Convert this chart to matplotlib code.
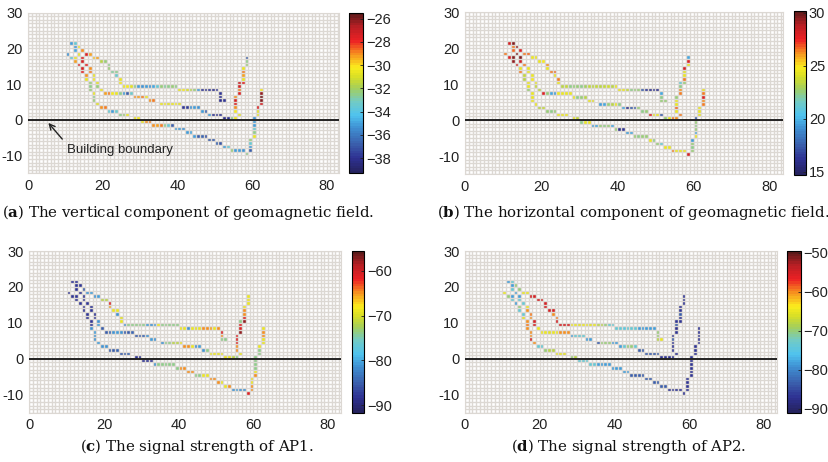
import matplotlib.pyplot as plt
import numpy as np
from matplotlib.colors import LinearSegmentedColormap

plt.rcParams['font.family'] = 'Liberation Sans'
plt.rcParams['axes.unicode_minus'] = False
plt.rcParams['mathtext.fontset'] = 'dejavuserif'

# cell positions of the three walked traces (same in all four maps)
path1_x = [11, 12, 13, 14, 15, 16, 17, 18, 19, 20, 21, 21, 22, 23, 23, 24, 24,
           25, 26, 27, 28, 29, 30, 31, 32, 33, 34, 35, 36, 37, 38, 39,
           40, 41, 42, 43, 44, 45, 46, 47, 48, 49, 50,
           51, 51, 51, 52]
path1_y = [21, 21, 20, 19, 18, 18, 17, 17, 16, 16, 15, 14, 13, 13, 12, 11, 10,
           9, 9, 9, 9, 9, 9, 9, 9, 9, 9, 9, 9, 9, 9, 9,
           8, 8, 8, 8, 8, 8, 8, 8, 8, 8, 8,
           7, 6, 5, 5]

path2_x = [12, 12, 13, 14, 14, 15, 16, 16, 17, 17, 18, 18, 19,
           20, 21, 22, 23, 24, 25, 26, 27,
           28, 29, 30, 31,
           32, 33,
           35, 36, 37, 38, 39, 40,
           41, 42, 43, 44, 45,
           46, 47,
           48, 49, 50, 51,
           52, 53, 54, 55,
           56, 55, 55, 55, 55, 55, 56, 56, 56, 56, 57, 57, 57, 57, 57, 58, 58, 58]
path2_y = [20, 19, 18, 17, 16, 15, 14, 13, 12, 11, 10, 9, 8,
           7, 7, 7, 7, 7, 7, 7, 7,
           6, 6, 6, 6,
           5, 5,
           4, 4, 4, 4, 4, 4,
           3, 3, 3, 3, 3,
           2, 2,
           1, 1, 1, 1,
           0, 0, 0, 0,
           1, 2, 3, 4, 5, 6, 7, 8, 9, 10, 10, 11, 12, 13, 14, 15, 16, 17]

path3_x = [10, 11, 12, 12, 13, 14, 14, 15, 15, 16, 16, 16, 17, 17, 17, 18, 19, 20, 21, 22, 23, 24, 25, 26,
           28, 29, 30, 31, 32, 33, 34, 35, 36, 37, 38, 39, 40, 41, 42, 43, 44, 45, 46, 47,
           48, 49, 50, 51, 52, 53, 54, 55, 56, 57, 58,
           59, 59, 59, 59, 60, 60, 60, 60, 60, 60, 61, 61, 61, 62, 62, 62, 62, 62]
path3_y = [18, 17, 17, 16, 15, 14, 13, 12, 11, 10, 9, 8, 7, 6, 5, 4, 3, 3, 2, 2, 2, 1, 1, 1,
           0, 0, -1, -1, -1, -2, -2, -2, -2, -2, -2, -3, -3, -3, -4, -4, -5, -5, -5, -5,
           -6, -6, -7, -7, -8, -8, -9, -9, -9, -9, -10,
           -9, -8, -7, -6, -5, -4, -3, -2, -1, 0, 1, 2, 3, 4, 5, 6, 7, 8]

# (a) vertical component of geomagnetic field
vert_1 = [-35.2, -33.6, -30.4, -29.1, -27.6, -29.3, -29.6, -29.2, -31.6, -32.3, -32.6, -32.4, -32.8, -32.5, -33.4, -30.6, -30.4,
          -30.5, -30.3, -30.8, -32.6, -35.1, -35.4, -35.0, -35.3, -34.9, -33.6, -32.4, -32.7, -32.5, -32.3, -32.6,
          -30.6, -30.4, -30.9, -31.6, -32.4, -35.2, -37.9, -38.2, -37.8, -38.1, -37.9,
          -38.0, -37.8, -38.1, -37.9]
vert_2 = [-35.1, -34.9, -30.5, -27.6, -27.4, -27.8, -29.1, -28.9, -30.6, -30.3, -30.7, -32.4, -30.5,
          -29.2, -28.9, -30.4, -30.6, -32.5, -35.2, -36.8, -33.4,
          -29.0, -29.3, -28.8, -30.5,
          -29.1, -28.9,
          -30.6, -30.4, -30.7, -30.5, -30.3, -30.8,
          -37.9, -37.6, -35.3, -35.0, -35.4,
          -35.2, -36.7,
          -35.1, -37.8, -38.0, -37.9,
          -38.1, -37.9, -32.5, -30.4,
          -30.6, -30.4, -29.1, -27.5, -27.3, -29.0, -27.6, -28.8, -27.4, -27.2, -27.5, -30.5, -29.2, -28.9, -30.6, -32.4, -32.6, -36.9]
vert_3 = [-35.3, -33.5, -30.6, -29.2, -27.5, -27.3, -27.7, -29.0, -30.5, -32.4, -32.6, -32.3, -30.5, -32.5, -32.4, -30.7,
          -29.1, -28.9, -33.6, -35.1, -33.4, -32.5, -32.3, -30.6,
          -30.5, -30.3, -30.6, -29.1, -28.9, -29.0, -29.2, -28.8, -32.5, -33.6, -36.8, -35.2, -35.0, -35.3, -35.1, -34.9,
          -35.2, -36.9, -36.7, -37.0, -36.8, -36.9, -36.6, -37.0, -35.1, -33.5, -32.4, -35.2, -35.0, -35.3, -32.5,
          -36.8, -35.1, -33.5, -32.4, -30.6, -32.5, -33.6, -35.2, -35.0, -35.3, -30.5, -30.7, -27.5, -27.3, -26.1, -25.9, -26.2, -30.4]

# (b) horizontal component of geomagnetic field
horiz_1 = [28.1, 29.6, 29.4, 27.9, 26.4, 26.6, 24.6, 24.4, 24.5, 24.7, 26.3, 24.5, 26.5, 26.7, 24.4, 26.4, 24.6,
           23.4, 23.6, 22.4, 22.6, 22.5, 22.3, 22.7, 23.5, 23.3, 23.6, 23.4, 23.5, 23.7, 23.4, 24.5,
           24.6, 24.4, 23.5, 22.4, 22.6, 22.5, 17.6, 16.2, 16.0, 16.3, 16.1,
           19.6, 22.4, 22.6, 22.5]
horiz_2 = [26.4, 26.6, 29.5, 29.7, 28.1, 26.5, 24.4, 24.6, 24.5, 24.7, 24.4, 23.5, 23.4,
           28.0, 22.5, 19.6, 19.4, 24.5, 24.6, 24.4, 24.5,
           24.6, 22.4, 22.5, 23.4,
           24.5, 24.3,
           19.5, 19.7, 22.5, 23.4, 24.5, 22.4,
           19.6, 16.1, 17.4, 17.6, 22.5,
           22.4, 22.6,
           28.0, 24.5, 24.6, 17.5,
           22.5, 24.4, 26.5, 26.3,
           26.4, 24.5, 26.6, 24.4, 24.6, 22.5, 26.5, 26.3, 22.4, 21.1, 22.6, 26.4, 24.5, 24.3, 28.1, 24.6, 27.9, 19.6]
horiz_3 = [26.5, 28.0, 29.6, 29.4, 28.2, 24.5, 26.4, 23.5, 23.4, 24.6, 24.4, 22.5, 24.5, 24.6, 24.4, 24.5,
           23.4, 23.6, 22.5, 22.4, 22.6, 24.5, 24.4, 24.6,
           24.5, 23.5, 22.4, 24.6, 24.4, 19.5, 19.7, 22.5, 22.4, 22.6, 19.6, 22.5, 16.1, 16.3, 19.4, 19.6,
           22.5, 22.4, 22.6, 22.5, 24.5, 22.4, 22.5, 21.1, 24.4, 24.6, 26.5, 24.5, 24.4, 24.6, 28.1,
           22.5, 22.4, 22.6, 19.5, 24.5, 19.6, 22.5, 22.4, 22.6, 17.5, 24.5, 24.4, 24.6, 26.5, 26.3, 28.0, 26.4, 24.5]

# (c) signal strength of AP1
ap1_1 = [-88.2, -87.9, -88.1, -85.2, -81.0, -80.8, -81.2, -80.9, -71.5, -71.8, -61.0, -65.2, -69.0, -68.8, -81.1, -69.2, -68.9,
         -81.0, -74.1, -73.8, -74.0, -74.2, -73.9, -80.9, -81.1, -80.8, -69.0, -74.0, -73.8, -74.1, -74.2, -73.9,
         -69.1, -68.9, -81.0, -69.0, -69.2, -68.8, -65.1, -64.9, -65.2, -69.0, -65.0,
         -61.0, -65.1, -74.0, -73.9]
ap1_2 = [-88.1, -88.3, -87.9, -88.0, -88.2, -87.8, -88.1, -88.0, -87.9, -88.2, -81.0, -80.8, -85.1,
         -85.2, -84.9, -81.1, -80.9, -81.0, -85.0, -85.3, -84.8,
         -85.1, -85.0, -84.9, -81.0,
         -80.9, -81.2,
         -81.0, -74.0, -73.8, -71.5, -71.7, -69.0,
         -65.0, -64.8, -69.1, -81.0, -80.8,
         -81.1, -74.0,
         -69.0, -68.8, -69.2, -69.1,
         -69.0, -68.9, -71.6, -74.0,
         -69.0, -65.0, -64.8, -61.1, -60.9, -61.0, -57.5, -61.2, -60.8, -74.0, -57.3, -61.0, -65.1, -64.9, -69.0, -68.8, -69.1, -69.0]
ap1_3 = [-88.0, -88.2, -87.9, -88.1, -88.0, -87.8, -88.2, -88.0, -88.1, -87.9, -88.0, -81.1, -80.9, -81.0, -81.2, -80.8,
         -81.0, -81.1, -85.0, -85.2, -84.9, -85.1, -85.0, -84.8,
         -88.0, -87.9, -88.1, -88.0, -87.8, -81.0, -74.0, -73.9, -74.1, -73.8, -74.0, -74.1, -65.0, -64.9, -65.1, -64.8,
         -74.0, -73.9, -69.0, -69.1, -65.0, -64.9, -65.1, -69.0, -68.9, -65.0, -81.0, -80.9, -81.1, -81.0, -61.0,
         -65.0, -64.9, -69.0, -69.1, -65.1, -69.0, -74.0, -73.9, -74.1, -74.0, -73.8, -74.0, -69.0, -68.9, -69.1, -65.0, -64.8, -69.0]

# (d) signal strength of AP2
ap2_1 = [-78.5, -74.0, -70.1, -69.9, -65.0, -64.8, -55.2, -54.9, -55.1, -55.0, -54.8, -55.3, -55.0, -54.9, -60.0, -59.8, -55.1,
         -55.0, -54.8, -55.2, -65.0, -64.9, -65.1, -65.0, -64.8, -65.2, -65.0, -68.0, -67.9, -70.0, -74.1, -73.9,
         -74.0, -73.8, -74.2, -74.0, -73.9, -74.1, -78.5, -78.4, -78.6, -78.5, -78.3,
         -70.0, -70.2, -68.0, -65.0]
ap2_2 = [-78.5, -74.0, -78.4, -78.6, -73.9, -74.1, -65.0, -60.0, -59.8, -60.2, -55.0, -54.9, -65.0,
         -65.0, -64.8, -65.1, -64.9, -65.0, -60.0, -59.9, -60.1,
         -78.5, -74.0, -73.9, -74.1,
         -78.5, -78.3,
         -83.5, -70.0, -69.9, -70.1, -78.5, -78.4,
         -78.6, -74.0, -70.0, -70.1, -73.9,
         -83.5, -83.3,
         -83.5, -83.6, -83.4, -83.5,
         -87.0, -86.8, -87.1, -87.0,
         -87.0, -86.9, -87.1, -87.0, -83.5, -86.8, -87.0, -87.2, -83.6, -87.0, -86.9, -87.1, -83.4, -87.0, -86.8, -87.1, -87.0, -86.9]
ap2_3 = [-65.0, -70.0, -78.5, -74.0, -78.4, -70.1, -73.9, -74.1, -65.1, -60.0, -59.8, -60.1, -60.0, -59.9, -55.0, -60.0,
         -74.0, -73.8, -70.0, -68.0, -67.9, -65.0, -64.8, -65.1,
         -70.0, -68.0, -74.0, -73.9, -74.1, -74.0, -73.8, -78.5, -78.4, -78.6, -78.5, -78.5, -78.3, -78.6, -78.4, -78.5,
         -83.5, -83.4, -83.6, -83.5, -83.5, -83.3, -83.6, -83.4, -83.5, -83.5, -87.0, -86.9, -87.1, -87.0, -87.0,
         -87.0, -86.9, -87.1, -87.0, -86.8, -87.0, -87.1, -86.9, -87.0, -87.0, -86.8, -87.1, -87.0, -86.9, -87.0, -87.1, -87.0, -86.9]

paths_x = [path1_x, path2_x, path3_x]
paths_y = [path1_y, path2_y, path3_y]

GRID = '#dcd8d3'
# jet-like map with the muted, printed look of the original
cmap = LinearSegmentedColormap.from_list('printed_jet', [
    (0.00, '#25235f'), (0.09, '#2e3192'), (0.17, '#3a5ba9'), (0.28, '#3f8fd2'),
    (0.36, '#4fc3ef'), (0.45, '#74cbc2'), (0.53, '#a5cf5a'), (0.60, '#d8df26'),
    (0.66, '#fbed1d'), (0.75, '#f68b1f'), (0.83, '#ec2024'), (0.92, '#b71f24'),
    (1.00, '#5c1a1a')], N=64)

fig = plt.figure(figsize=(8.29, 4.62), dpi=100)


def draw_panel(rect, cb_rect, values, vmin, vmax, cticks):
    ax = fig.add_axes(rect)
    Z = np.full((45, 84), np.nan)
    for px, py, vals in zip(paths_x, paths_y, values):
        for x, y, v in zip(px, py, vals):
            Z[y + 15, x] = v
    mesh = ax.pcolormesh(np.arange(85), np.arange(-15, 31), np.ma.masked_invalid(Z),
                         cmap=cmap, vmin=vmin, vmax=vmax, zorder=1)
    ax.vlines(np.arange(85), -15, 30, colors=GRID, lw=1.0, zorder=2)
    ax.hlines(np.arange(-15, 31), 0, 84, colors=GRID, lw=1.0, zorder=2)
    ax.axhline(0, color='#222222', lw=1.4, zorder=3)
    ax.set_xlim(0, 83.4)
    ax.set_ylim(-15, 30)
    ax.set_xticks([0, 20, 40, 60, 80])
    ax.set_yticks([-10, 0, 10, 20, 30])
    ax.tick_params(length=0, labelsize=10.5, pad=4, colors='#222222')
    for s in ax.spines.values():
        s.set_color(GRID)

    cax = fig.add_axes(cb_rect)
    cb = fig.colorbar(mesh, cax=cax)
    cb.set_ticks(cticks)
    cb.set_ticklabels([str(t).replace('-', '\u2212') for t in cticks])
    cb.outline.set_linewidth(0.8)
    cax.tick_params(length=2.5, width=0.6, direction='in', labelsize=10.5, pad=2, colors='#222222')
    return ax


ax_a = draw_panel([0.0341, 0.6249, 0.3752, 0.3476], [0.4214, 0.6249, 0.0169, 0.3476],
                  [vert_1, vert_2, vert_3], -39.3, -25.5, [-26, -28, -30, -32, -34, -36, -38])
ax_b = draw_panel([0.5609, 0.6234, 0.3832, 0.3500], [0.9578, 0.6212, 0.0145, 0.3556],
                  [horiz_1, horiz_2, horiz_3], 14.7, 30.2, [15, 20, 25, 30])
ax_c = draw_panel([0.0353, 0.1067, 0.3757, 0.3500], [0.4242, 0.1067, 0.0152, 0.3500],
                  [ap1_1, ap1_2, ap1_3], -91.7, -55.6, [-60, -70, -80, -90])
ax_d = draw_panel([0.5609, 0.1067, 0.3760, 0.3500], [0.9490, 0.1067, 0.0169, 0.3500],
                  [ap2_1, ap2_2, ap2_3], -91.0, -49.5, [-50, -60, -70, -80, -90])

# building boundary note
ax_a.annotate('', xy=(4.9, -0.3), xytext=(9.6, -6.0),
              arrowprops=dict(arrowstyle='->', lw=1.0, color='#222222'), zorder=5)
ax_a.text(10.3, -8.4, 'Building boundary', fontsize=9.5, ha='left', va='center',
          color='#222222', zorder=5)

# captions
cap_kw = dict(ha='center', va='center', fontsize=10.8, family='DejaVu Serif', color='#111111')
fig.text(0.2268, 0.541, r'($\mathbf{a}$) The vertical component of geomagnetic field.', **cap_kw)
fig.text(0.7636, 0.541, r'($\mathbf{b}$) The horizontal component of geomagnetic field.', **cap_kw)
fig.text(0.2380, 0.0325, r'($\mathbf{c}$) The signal strength of AP1.', **cap_kw)
fig.text(0.7580, 0.0325, r'($\mathbf{d}$) The signal strength of AP2.', **cap_kw)

fig.savefig('out.png', dpi=100)
